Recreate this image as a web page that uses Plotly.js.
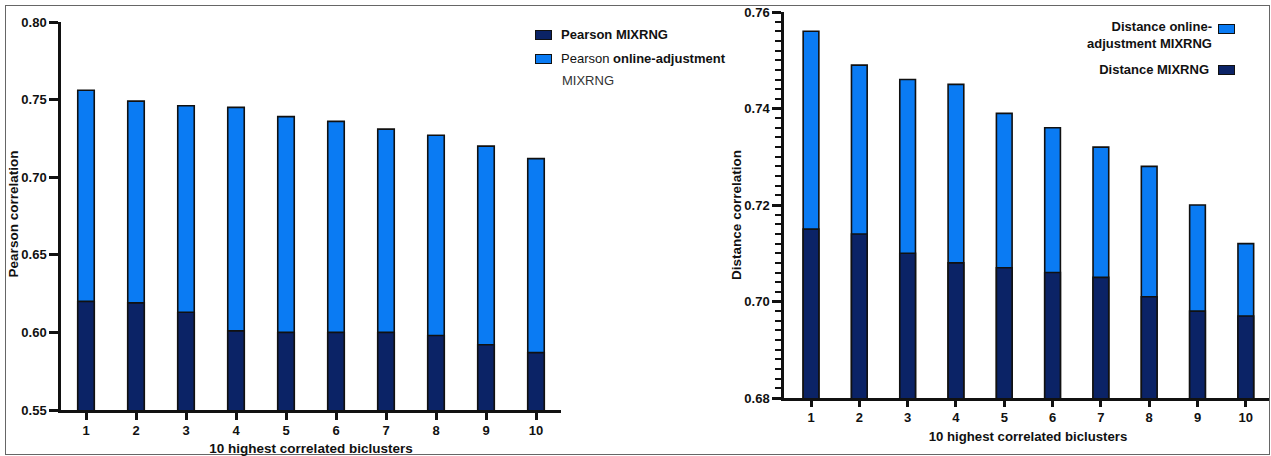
<!DOCTYPE html>
<html>
<head>
<meta charset="utf-8">
<script src="https://cdn.plot.ly/plotly-3.0.1.min.js"></script>
<style>
html,body{margin:0;padding:0;background:#fff;}
#wrap{position:relative;width:1271px;height:456px;font-family:'Liberation Sans',Arial,Helvetica,sans-serif;color:#111;}
#chart{position:absolute;left:0;top:0;width:1271px;height:456px;}
.frame{position:absolute;left:5px;top:5px;width:1263px;height:448px;border:1.5px solid #666;pointer-events:none;}
.sw{position:absolute;width:15px;height:8px;border:1px solid #111;}
.t{position:absolute;white-space:nowrap;line-height:1;pointer-events:none;}
.c{transform:translate(-50%,-50%);}
.rot{transform:translate(-50%,-50%) rotate(-90deg);}
.lm{transform:translate(0,-50%);}
.rm{transform:translate(-100%,-50%);text-align:right;}
</style>
</head>
<body>
<div id="wrap">
<div id="chart"></div>
<div class="frame"></div>
<div class="sw" style="left:535px;top:30px;background:#0B2366"></div>
<div class="sw" style="left:535px;top:54px;background:#0A7BF3"></div>
<div class="sw" style="left:1218px;top:24px;background:#0A7BF3"></div>
<div class="sw" style="left:1218px;top:65px;background:#0B2366"></div>
<div class="t c" style="left:311px;top:449px;font-size:13.5px;font-weight:bold;">10 highest correlated biclusters</div>
<div class="t c" style="left:1028px;top:437px;font-size:13.2px;font-weight:bold;">10 highest correlated biclusters</div>
<div class="t rot" style="left:14px;top:214px;font-size:13.5px;font-weight:bold;">Pearson correlation</div>
<div class="t rot" style="left:737px;top:215px;font-size:13.5px;font-weight:bold;">Distance correlation</div>
<div class="t lm" style="left:561px;top:34px;font-size:13px;font-weight:bold;">Pearson MIXRNG</div>
<div class="t lm" style="left:561px;top:58px;font-size:13px;">Pearson <b>online-adjustment</b></div>
<div class="t lm" style="left:562px;top:80px;font-size:13px;color:#333;">MIXRNG</div>
<div class="t rm" style="left:1212px;top:34.5px;font-size:13px;font-weight:bold;line-height:17px;">Distance online-<br>adjustment MIXRNG</div>
<div class="t rm" style="left:1209px;top:69px;font-size:13px;font-weight:bold;">Distance MIXRNG</div>
</div>
<script>
// ---- data ----
const categories = [1, 2, 3, 4, 5, 6, 7, 8, 9, 10];
const pearsonMixrng = [0.620, 0.619, 0.613, 0.601, 0.600, 0.600, 0.600, 0.598, 0.592, 0.587];
const pearsonOnline = [0.756, 0.749, 0.746, 0.745, 0.739, 0.736, 0.731, 0.727, 0.720, 0.712];
const distanceMixrng = [0.715, 0.714, 0.710, 0.708, 0.707, 0.706, 0.705, 0.701, 0.698, 0.697];
const distanceOnline = [0.756, 0.749, 0.746, 0.745, 0.739, 0.736, 0.732, 0.728, 0.720, 0.712];

// ---- styling ----
const W = 1271, H = 456;
const px = x => x / W;
const py = y => 1 - y / H;
const LIGHT = '#0A7BF3';
const DARK = '#0B2366';
const FONT = 'Liberation Sans, Arial, Helvetica, sans-serif';
const INK = '#111';

function bar(x, y, color, xa, ya, name, width) {
  return {
    type: 'bar', x: x, y: y, name: name, xaxis: xa, yaxis: ya,
    width: width, showlegend: false,
    marker: {color: color, line: {color: '#111', width: 1.6}}
  };
}

const data = [
  bar(categories, pearsonOnline, LIGHT, 'x', 'y', 'Pearson online-adjustment MIXRNG', 0.33),
  bar(categories, pearsonMixrng, DARK, 'x', 'y', 'Pearson MIXRNG', 0.33),
  bar(categories, distanceOnline, LIGHT, 'x2', 'y2', 'Distance online-adjustment MIXRNG', 0.325),
  bar(categories, distanceMixrng, DARK, 'x2', 'y2', 'Distance MIXRNG', 0.325)
];

const tickFont = {family: FONT, size: 13, color: INK, weight: 'bold'};
const axisCommon = {
  showgrid: false, zeroline: false, showline: true, linecolor: INK, linewidth: 2.5,
  ticks: 'outside', tickcolor: INK, tickwidth: 2.5, tickfont: tickFont,
  automargin: false, fixedrange: true
};

const layout = {
  width: W, height: H, autosize: false,
  margin: {l: 0, r: 0, t: 0, b: 0, pad: 0},
  barmode: 'overlay',
  font: {family: FONT, color: INK},
  xaxis: Object.assign({}, axisCommon, {
    domain: [px(61), px(561)], range: [0.5, 10.5],
    tickmode: 'linear', tick0: 1, dtick: 1, ticklen: 7, anchor: 'y'
  }),
  yaxis: Object.assign({}, axisCommon, {
    domain: [py(410), py(22)], range: [0.55, 0.80],
    tickmode: 'linear', tick0: 0.55, dtick: 0.05, tickformat: '.2f', ticklen: 9, anchor: 'x'
  }),
  xaxis2: Object.assign({}, axisCommon, {
    domain: [px(784), px(1269)], range: [0.441, 10.48],
    tickmode: 'linear', tick0: 1, dtick: 1, ticklen: 6, anchor: 'y2'
  }),
  yaxis2: Object.assign({}, axisCommon, {
    domain: [py(398), py(12)], range: [0.68, 0.76],
    tickmode: 'linear', tick0: 0.68, dtick: 0.02, tickformat: '.2f', ticklen: 9, anchor: 'x2',
    minor: {tickmode: 'linear', tick0: 0.68, dtick: 0.002, ticks: 'outside', ticklen: 6, tickwidth: 2, tickcolor: INK, showgrid: false}
  })
};

Plotly.newPlot('chart', data, layout, {displayModeBar: false});
</script>
</body>
</html>
